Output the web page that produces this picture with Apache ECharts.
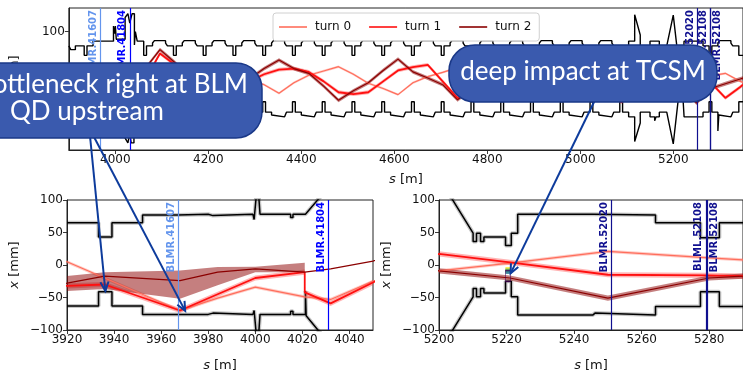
<!DOCTYPE html>
<html><head><meta charset="utf-8">
<script src="https://cdn.jsdelivr.net/npm/echarts@6.0.0/dist/echarts.min.js"></script>
<style>html,body{margin:0;padding:0;background:#fff}#c{width:743px;height:373px}</style>
</head><body><div id="c"></div>
<script>
// ---------------- data ----------------
// longitudinal positions of trajectory points [m]
const sPts = [3900,3920,3936,3968,3984,4000,4021,4021,4032,4050,
  4064,4096,4128,4160,4192,4224,4256,4288,4320,4352,
  4384,4416,4448,4480,4512,4544,4576,4608,4640,4672,
  4704,4736,4768,4800,4832,4864,4896,4928,4960,4992,
  5024,5056,5088,5120,5152,5184,5200,5221,5250,5280,
  5290,5312,5344,5350];
// horizontal position per turn [mm]
const turn0X = [12,5,-20,-70,-51,-34,-49,-49,-53,-25,
  -5,10,18,24,25,18,5,-3,-12,-30,
  -8,8,17,26,10,-9,-20,-33,-8,5,
  14,24,10,-5,-18,-30,-12,2,12,24,
  10,-5,-18,-28,-20,-12,-9,3,21,11,
  8,12,-5,-7];
const turn1X = [-34,-32,-30,-70,-45,-20,-11,-42,-59,-27,
  -2,54,30,5,-18,-35,-20,-5,10,20,
  22,15,-5,-28,-32,-28,-5,18,25,30,
  -5,-40,-15,10,25,20,0,-15,-25,-10,
  5,-20,-49,-30,-8,10,17,4,-15,-16,
  -17,-40,-17,-12];
const turn2X = [-36,-28,-17,-24,-11,-6,-11,-11,-6,6,
  22,62,35,5,-20,-40,-20,0,22,40,
  22,12,-15,-45,-25,-8,18,42,15,2,
  -12,-44,-20,0,20,40,20,0,-20,-42,
  -20,0,20,38,20,2,-9,-20,-51,-20,
  -17,-10,0,2];
// beam spread (half width of the shaded band) [mm]
const spread0 = 2.5, spread1 = 4, spread2 = 4;
const turn2BandFrom = 4050;               // symmetric band of turn 2 starts here
// measured band of turn 2 near the QD (asymmetric)
const turn2BandS  = [3920,3936,3968,3984,4000,4021];
const turn2BandLo = [-40,-37,-52,-31,-11,-11];
const turn2BandHi = [-17,-11,-8.5,-3,-2.5,3.6];

// aperture, overview plot
const topStartU = [[3900,70],[3904,70],[3904,62],[3914,62],[3914,70],[3933,70],[3933,50],[3939,50],[3939,70],[3952,70],[3952,80],[3996,80],[3996,112],[3998,112],[3998,96],[4000,96],[4000,112],[4002,112],[4002,84],[4021,84],[4021,130],[4027,138],[4031,118],[4036,138],[4041,138],[4041,72],[4043,72],[4043,100],[4047,100],[4047,80],[4061,80]];
const topStartL = [[3900,-70],[3904,-70],[3904,-62],[3914,-62],[3914,-70],[3933,-70],[3933,-48],[3939,-48],[3939,-70],[3952,-70],[3952,-80],[3996,-80],[3996,-110],[3998,-110],[3998,-95],[4000,-95],[4000,-110],[4002,-110],[4002,-82],[4021,-82],[4021,-125],[4027,-135],[4031,-115],[4034,-135],[4040,-135],[4040,-105],[4044,-105],[4044,-80],[4061,-80]];
const cellU = [[-3,50],[3,50],[3,70],[16,70],[16,76],[20,76],[20,81],[44,81],[44,76],[48,76],[48,70],[61,70]];
const cellL = [[-3,-48],[3,-48],[3,-70],[16,-70],[16,-76],[20,-76],[20,-80],[44,-80],[44,-76],[48,-76],[48,-70],[61,-70]];
const qdCells = [4064,4128,4192,4256,4320,4384,4448,4512,4576,4640,4704,4768,4832,4896,4960,5024];
const topMidU = [[5085,50],[5091,50],[5091,70],[5104,70],[5104,80],[5117,80],[5117,136],[5121,136],[5129,93],[5129,70],[5150,70],[5150,80],[5170,80],[5170,70],[5186,70],[5200,135],[5210.1,49],[5210.1,36],[5211.1,36],[5211.1,49],[5212.3,49],[5212.3,36],[5213.3,36],[5213.3,43],[5219.7,43],[5219.7,30],[5221.4,30],[5221.4,49],[5223.3,49],[5223.3,80],[5264,80],[5264,70],[5277,70]];
const topMidL = [[5085,-48],[5091,-48],[5091,-70],[5104,-70],[5104,-80],[5117,-80],[5117,-132],[5121,-132],[5129,-93],[5129,-70],[5150,-70],[5150,-80],[5160,-80],[5160,-88],[5163,-88],[5163,-80],[5170,-80],[5170,-70],[5186,-70],[5200,-137],[5210.1,-49],[5210.1,-36],[5211.1,-36],[5211.1,-49],[5212.3,-49],[5212.3,-36],[5213.3,-36],[5213.3,-43],[5219.7,-43],[5219.7,-25],[5221.4,-25],[5221.4,-49],[5223.3,-49],[5223.3,-80],[5264,-80],[5264,-70],[5277,-70]];
const topTailU = [[5277,50],[5283,50],[5283,70],[5296,70],[5296,76],[5300,76],[5300,81],[5324,81],[5324,76],[5328,76],[5328,70],[5341,70],[5341,50],[5350,50]];
const topTailL = [[5277,-48],[5283,-48],[5283,-70],[5296,-70],[5296,-110],[5298,-110],[5298,-76],[5300,-76],[5300,-80],[5324,-80],[5324,-76],[5328,-76],[5328,-70],[5341,-70],[5341,-48],[5350,-48]];

// aperture, zoom near the QD (bottom left)
const blApU = [[3920,65],[3933.4,65],[3933.4,43],[3939.1,43],[3939.1,65],[3952.1,65],[3952.1,77],[3967,77],[3967,78],[3980,78],[3980,76],[3982,76],[3982,78],[3999,78],[3999.5,70],[4001,130],[4001.6,130],[4002,78],[4015,78],[4015,73],[4016,73],[4016,78],[4021.3,78],[4030,115]];
const blApL = [[3920,-63],[3933.4,-63],[3933.4,-41],[3939.1,-41],[3939.1,-63],[3952.1,-63],[3952.1,-76],[3980,-76],[3980,-74],[3982,-74],[3982,-76],[3999,-76],[3999.5,-70],[4001,-130],[4001.6,-130],[4002,-76],[4015,-76],[4015,-71],[4016,-71],[4016,-76],[4021.3,-76],[4021.3,-40],[4021.6,-40],[4021.6,-78],[4030,-115]];
// aperture, zoom near the TCSM (bottom right)
const brApU = [[5196,168],[5210.1,49],[5210.1,36],[5211.1,36],[5211.1,49],[5212.3,49],[5212.3,36],[5213.3,36],[5213.3,43],[5219.7,43],[5219.7,30],[5221.4,30],[5221.4,49],[5223.3,49],[5223.3,78],[5245.5,78],[5245.5,77],[5264.1,77],[5264.1,65],[5277.4,65],[5277.4,42],[5283,42],[5283,65],[5290,65]];
const brApL = [[5196,-168],[5210.1,-49],[5210.1,-36],[5211.1,-36],[5211.1,-49],[5212.3,-49],[5212.3,-36],[5213.3,-36],[5213.3,-43],[5219.7,-43],[5219.7,-25],[5221.4,-25],[5221.4,-49],[5223.3,-49],[5223.3,-77],[5245.5,-77],[5245.5,-74],[5246.2,-74],[5246.2,-77],[5264.1,-77],[5264.1,-64],[5277.4,-64],[5277.4,-41],[5283,-41],[5283,-64],[5290,-64]];
// impact distribution on the TCSM jaw
const impactS = [5220.4,5220.4,5220.4,5220.4];
const impactX = [-5.5,-7.5,-9.5,-11.5];

// beam loss monitors
const blmNames = ['BLMR.41607','BLMR.41804','BLMR.52020','BLML.52108','BLMR.52108'];
const blmS = [3967.3,4031,5251.1,5279.0,5279.4];

// ticks
const topXTicks = [4000,4200,4400,4600,4800,5000,5200];
const topYTicks = [-100,0,100];
const turnNames = ['turn 0','turn 1','turn 2'];
// annotation targets [s, x] (grid 1, grid 1, grid 2)
const arrowTargets = [[3936.3,-40],[3970.2,-70.6],[5221.2,-12.8]];

// ---------------- styles ----------------
const FONT = 'DejaVu Sans';
const turnColors = ['#ff6e5c','#ff1010','#8b0000'];
const bandColors = ['rgba(255,110,92,0.35)','rgba(255,40,40,0.35)','rgba(139,0,0,0.5)'];
const turnWidths = [1.2,1.8,1.2];
const blmColors = ['#6495ed','#0000ff','#10108f','#10108f','#10108f'];
const blmLabelPos = ['insideEndTop','insideEndTop','insideEndTop','insideEndTop','insideEndBottom'];

// ---------------- build ----------------
function buildAp(start, cell, qds, mid, tail){
  const out = start.slice();
  qds.forEach(q => cell.forEach(p => out.push([q + p[0], p[1]])));
  return out.concat(mid, tail);
}
const topApU = buildAp(topStartU, cellU, qdCells, topMidU, topTailU);
const topApL = buildAp(topStartL, cellL, qdCells, topMidL, topTailL);
const pairs = (xs, ys) => xs.map((x,i)=>[x, ys[i]]);
const turns = [turn0X, turn1X, turn2X];
const spreads = [spread0, spread1, spread2];

function bandSeries(gi, sArr, lo, hi, color){
  return {type:'custom', xAxisIndex:gi, yAxisIndex:gi, clip:true, silent:true, z:3, animation:false,
    data: sArr.map((s,i)=>[s, lo[i], hi[i]]),
    renderItem: function(params, api){
      if (params.dataIndexInside !== 0) return null;
      const pts = [];
      for (let i=0;i<sArr.length;i++) pts.push(api.coord([sArr[i], hi[i]]));
      for (let i=sArr.length-1;i>=0;i--) pts.push(api.coord([sArr[i], lo[i]]));
      return {type:'polygon', shape:{points:pts}, style:{fill:color}};
    }};
}
function lineSeries(gi, name, data, color, width, z, extra){
  return Object.assign({type:'line', name:name, xAxisIndex:gi, yAxisIndex:gi, data:data,
    symbol:'none', showSymbol:false, clip:true, animation:false, z:z,
    lineStyle:{color:color, width:width}, itemStyle:{color:color}, emphasis:{disabled:true}}, extra||{});
}
function blmMarks(min, max){
  const d = [];
  blmS.forEach((s,i)=>{
    if (s < min || s > max) return;
    d.push({xAxis:s, name:blmNames[i], lineStyle:{color:blmColors[i], width:1.2, type:'solid'},
      label:{show:true, formatter:blmNames[i], position:blmLabelPos[i], distance:2, color:blmColors[i],
             fontSize:10, fontWeight:'bold', fontFamily:FONT}});
  });
  return {symbol:['none','none'], silent:true, animation:false, data:d};
}

const ranges = [[3900,5350],[3920,4050],[5200,5290]];
const series = [];
// apertures
series.push(lineSeries(0,'apU',topApU,'#000',1.4,2,{markLine:blmMarks(3900,5350)}));
series.push(lineSeries(0,'apL',topApL,'#000',1.4,2));
[[1,blApU,blApL],[2,brApU,brApL]].forEach(([gi,u,l])=>{
  series.push(lineSeries(gi,'apUh',u,'rgba(0,0,0,0.22)',4,2));
  series.push(lineSeries(gi,'apLh',l,'rgba(0,0,0,0.22)',4,2));
  series.push(lineSeries(gi,'apU',u,'#000',1.5,2,{markLine:blmMarks(ranges[gi][0],ranges[gi][1])}));
  series.push(lineSeries(gi,'apL',l,'#000',1.5,2));
});
// bands and trajectories
const s2 = [], lo2 = [], hi2 = [];
sPts.forEach((s,i)=>{ if (s >= turn2BandFrom){ s2.push(s); lo2.push(turn2X[i]-spread2); hi2.push(turn2X[i]+spread2);} });
[0,1,2].forEach(gi=>{
  [0,1].forEach(t=>{
    series.push(bandSeries(gi, sPts, turns[t].map(v=>v-spreads[t]), turns[t].map(v=>v+spreads[t]), bandColors[t]));
  });
  series.push(bandSeries(gi, turn2BandS, turn2BandLo, turn2BandHi, bandColors[2]));
  series.push(bandSeries(gi, s2, lo2, hi2, bandColors[2]));
  [0,1,2].forEach(t=>{
    series.push(lineSeries(gi, turnNames[t], pairs(sPts, turns[t]), turnColors[t], turnWidths[t], 4));
  });
});
// TCSM impacts
const impColors = ['#fde725','#7ad151','#22a884','#2a788e'];
series.push({type:'scatter', xAxisIndex:2, yAxisIndex:2, silent:true, animation:false, z:5,
  symbol:'rect', symbolSize:[5,3],
  data: impactS.map((s,i)=>({value:[s, impactX[i]], itemStyle:{color:impColors[i]}}))});
series.push({type:'scatter', xAxisIndex:2, yAxisIndex:2, silent:true, animation:false, z:5,
  symbol:'rect', symbolSize:[5,11],
  itemStyle:{color:'rgba(0,0,0,0)', borderColor:'#440154', borderWidth:1},
  data:[[5220.4,-17]]});

const axisLine = {show:true, onZero:false, lineStyle:{color:'#222', width:1}};
const tickStyle = {show:true, length:4, lineStyle:{color:'#222', width:0.9}};
const labStyle = {color:'#111', fontSize:12, fontFamily:FONT, margin:4, showMaxLabel:false};
const rich = {it:{fontStyle:'italic', fontFamily:FONT, fontSize:13, color:'#111'}};
const minus = v => String(v).replace('-', '\u2212');

function xAx(gi, min, max, extra){
  return Object.assign({type:'value', gridIndex:gi, min:min, max:max,
    axisLine:axisLine, axisTick:tickStyle, splitLine:{show:false},
    axisLabel:Object.assign({}, labStyle, {formatter:v=>String(v)}),
    name:'{it|s} [m]', nameLocation:'middle', nameGap:29,
    nameTextStyle:{fontFamily:FONT, fontSize:13, color:'#111', rich:rich}}, extra||{});
}
function yAx(gi, min, max, extra){
  return Object.assign({type:'value', gridIndex:gi, min:min, max:max,
    axisLine:axisLine, axisTick:tickStyle, splitLine:{show:false},
    axisLabel:Object.assign({}, labStyle, {formatter:minus, showMaxLabel:true}),
    name:'{it|x} [mm]', nameLocation:'middle', nameGap:46, nameRotate:90,
    nameTextStyle:{fontFamily:FONT, fontSize:13, color:'#111', rich:rich}}, extra||{});
}

const option = {
  animation:false,
  backgroundColor:'#fff',
  grid:[
    {left:67, top:8, width:678, height:142},
    {left:67, top:200, width:306, height:138},
    {left:439, top:200, width:306, height:138}
  ].map(g=>Object.assign({show:true, borderColor:'#222', borderWidth:1, backgroundColor:'rgba(0,0,0,0)'}, g)),
  xAxis:[
    xAx(0,3900,5350,{axisTick:Object.assign({}, tickStyle,{customValues:topXTicks}),
      axisLabel:Object.assign({}, labStyle,{customValues:topXTicks, showMaxLabel:true, formatter:v=>String(v)}), nameGap:23}),
    xAx(1,3920,4050,{interval:20}),
    xAx(2,5200,5290,{interval:20})
  ],
  yAxis:[
    yAx(0,-150,150,{axisTick:Object.assign({}, tickStyle,{customValues:topYTicks}),
      axisLabel:Object.assign({}, labStyle,{customValues:topYTicks, showMaxLabel:true, formatter:minus})}),
    yAx(1,-100,100,{interval:50}),
    yAx(2,-100,100,{interval:50})
  ],
  legend:{data:turnNames, left:273, top:13, icon:'rect', itemWidth:28, itemHeight:1.6, itemGap:18,
    padding:[8,8,8,6], backgroundColor:'rgba(255,255,255,0.85)', borderColor:'#d0d0d0', borderWidth:1, borderRadius:3,
    textStyle:{fontFamily:FONT, fontSize:12, color:'#111', padding:[0,0,0,3]}, selectedMode:false},
  series:series
};
const chart = echarts.init(document.getElementById('c'));
chart.setOption(option);

// ---------------- annotations ----------------
const AC = '#0d3b9c';
function arrow(x0,y0,p){
  const x1=p[0], y1=p[1];
  const ang = Math.atan2(y1-y0, x1-x0), L=10, a=0.42;
  return [
    {type:'line', z:90, silent:true, shape:{x1:x0,y1:y0,x2:x1,y2:y1}, style:{stroke:AC, lineWidth:2}},
    {type:'polyline', z:90, silent:true, shape:{points:[[x1-L*Math.cos(ang-a), y1-L*Math.sin(ang-a)],[x1,y1],[x1-L*Math.cos(ang+a), y1-L*Math.sin(ang+a)]]},
     style:{stroke:AC, lineWidth:2, fill:null}}
  ];
}
const tip = (gi,p) => chart.convertToPixel({xAxisIndex:gi, yAxisIndex:gi}, p);
const boxStyle = {fill:'#3a5aae', stroke:'#1a3888', lineWidth:1.5};
const txtFont = '26px Lato';
const graphics = [].concat(
  arrow(90,136, tip(1, arrowTargets[0])),
  arrow(93.5,136, tip(1, arrowTargets[1])),
  arrow(595,100, tip(2, arrowTargets[2])),
  [
    {type:'rect', z:100, silent:true, shape:{x:-40, y:63, width:302, height:75, r:26}, style:boxStyle},
    {type:'text', z:101, silent:true, x:248, y:85, style:{text:'bottleneck right at BLM', fill:'#fff', font:txtFont, textAlign:'right', textVerticalAlign:'middle'}},
    {type:'text', z:101, silent:true, x:10, y:112, style:{text:'QD upstream', fill:'#fff', font:txtFont, textAlign:'left', textVerticalAlign:'middle'}},
    {type:'rect', z:100, silent:true, shape:{x:449, y:45, width:268, height:57, r:26}, style:boxStyle},
    {type:'text', z:101, silent:true, x:583, y:72, style:{text:'deep impact at TCSM', fill:'#fff', font:txtFont, textAlign:'center', textVerticalAlign:'middle'}}
  ]);
chart.setOption({graphic:{elements:graphics}});
</script></body></html>
